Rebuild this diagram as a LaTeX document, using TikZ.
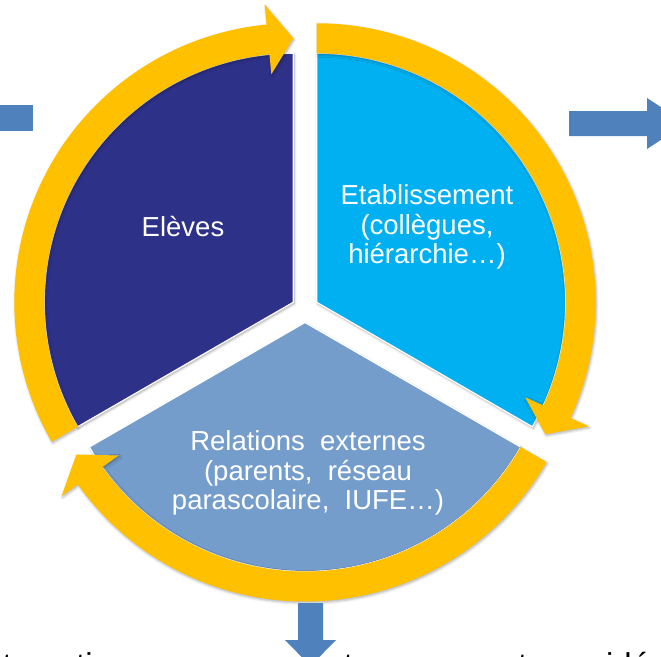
\documentclass[tikz,border=0pt]{standalone}
\usepackage{fontspec}
\newfontfamily\arialfont{Liberation Sans}
\usetikzlibrary{shadows.blur}
\definecolor{darkseg}{RGB}{46,49,136}
\definecolor{lightseg}{RGB}{0,176,240}
\definecolor{lowseg}{RGB}{117,157,204}
\definecolor{ringyellow}{RGB}{255,192,0}
\definecolor{sideblue}{RGB}{79,129,189}
\newcommand{\ringarrowpath}[3]{%
  \begin{scope}[shift={#1}]
    \path[ringarrow] (#2:279pt) arc[start angle=#2, end angle=#3+5.5, radius=279pt]
      -- (#3+5.5:299pt) -- (#3:264pt) -- (#3+5.5:229pt) -- (#3+5.5:249pt)
      arc[start angle=#3+5.5, end angle=#2, radius=249pt] -- cycle;
  \end{scope}}
\newcommand{\segmentpath}[4]{%
  \begin{scope}[shift={#1}]
    \path[segment, fill=#4] (0,0) -- (#2:249pt) arc[start angle=#2, end angle=#3, radius=249pt] -- cycle;
  \end{scope}}
\begin{document}
\begin{tikzpicture}[x=1pt,y=1pt,
  segment/.style={draw=white, line width=1.2pt, line join=round,
    blur shadow={shadow xshift=1pt, shadow yshift=-1.5pt, shadow blur radius=2.5pt, shadow opacity=35}},
  ringarrow/.style={fill=ringyellow,
    blur shadow={shadow xshift=1pt, shadow yshift=-1.5pt, shadow blur radius=2.5pt, shadow opacity=30}},
  segtext/.style={text=white, font=\arialfont\fontsize{27.5}{29.5}\selectfont, align=center, inner sep=0pt},
  sidearrow/.style={fill=sideblue}]
\useasboundingbox (0,0) rectangle (661,-656);
\clip (0,0) rectangle (661,-656);
% apexes of the exploded segments
\coordinate (A1) at (293.3,-302.25);
\coordinate (A2) at (316.7,-302.25);
\coordinate (A3) at (305,-322.5);
% segments
\segmentpath{(A1)}{90}{210}{darkseg}
\segmentpath{(A2)}{-30}{90}{lightseg}
\segmentpath{(A3)}{210}{330}{lowseg}
% yellow circular arrows
\ringarrowpath{(A1)}{210}{90}
\ringarrowpath{(A2)}{90}{-30}
\ringarrowpath{(A3)}{330}{210}
% texts
\node[segtext] (eleves) at (183,-227) {Elèves};
\node[segtext] (etab) at (427,-227) {Etablissement\\(collègues,\\hiérarchie…)};
\node[segtext] (relations) at (308,-473) {Relations\ \ externes\\(parents,\ \ réseau\\parascolaire,\ \ IUFE…)};
% side blue arrows (partly outside the picture)
\path[sidearrow] (-20,-105) rectangle (33,-131);
\path[sidearrow] (569,-111) -- (647,-111) -- (647,-98) -- (686,-123.5) -- (647,-149) -- (647,-136) -- (569,-136) -- cycle;
\path[sidearrow] (298,-603) -- (323,-603) -- (323,-640) -- (336,-640) -- (310.5,-666) -- (285,-640) -- (298,-640) -- cycle;
% partly visible text line at the bottom (cut by the lower edge, as in the reference)
\node[anchor=base west, inner sep=0pt, font=\arialfont\fontsize{33}{36}\selectfont] (bottomtext) at (-25,-676) {Interactions avec mon entourage sont considérées};
\end{tikzpicture}
\end{document}
